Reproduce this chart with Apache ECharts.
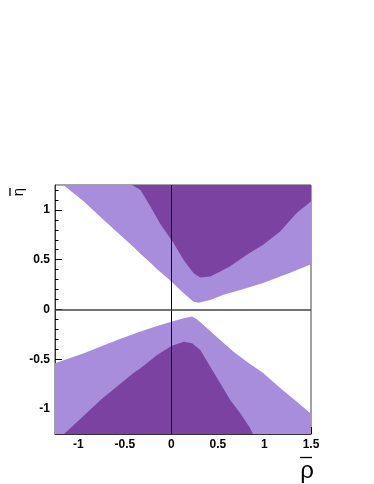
<!DOCTYPE html>
<html>
<head>
<meta charset="utf-8">
<script src="https://cdn.jsdelivr.net/npm/echarts@6/dist/echarts.min.js"></script>
<style>
html,body{margin:0;padding:0;background:#fff;}
#chart{width:374px;height:484px;}
</style>
</head>
<body>
<div id="chart"></div>
<script>
// Axis ranges and ticks
const xRange = [-1.25, 1.5];
const yRange = [-1.25, 1.25];
const xMajorTicks = [-1, -0.5, 0, 0.5, 1, 1.5];
const yMajorTicks = [-1, -0.5, 0, 0.5, 1];
const xMinorTicks = [-1.2,-1.1,-0.9,-0.8,-0.7,-0.6,-0.4,-0.3,-0.2,-0.1,0.1,0.2,0.3,0.4,0.6,0.7,0.8,0.9,1.1,1.2,1.3,1.4];
const yMinorTicks = [-1.2,-1.1,-0.9,-0.8,-0.7,-0.6,-0.4,-0.3,-0.2,-0.1,0.1,0.2,0.3,0.4,0.6,0.7,0.8,0.9,1.1,1.2];
const xTitle = 'ρ';
const yTitle = 'η';

// Upper 95% region (light): lower boundary, then top-right corner
const upper95 = [[-1.16,1.25],[-0.94,1.084],[-0.761,0.928],[-0.582,0.775],[-0.404,0.625],[-0.332,0.56],[-0.225,0.47],[-0.153,0.405],[-0.046,0.318],[0,0.28],[0.132,0.164],[0.239,0.079],[0.293,0.069],[0.418,0.096],[0.561,0.147],[0.74,0.197],[0.986,0.267],[1.276,0.368],[1.5,0.455],[1.5,1.25]];
// Upper 68% region (dark)
const upper68 = [[-0.421,1.25],[-0.332,1.20],[-0.225,1.034],[-0.12,0.86],[0.025,0.666],[0.132,0.498],[0.239,0.365],[0.311,0.321],[0.418,0.331],[0.525,0.381],[0.632,0.435],[0.811,0.549],[0.986,0.649],[1.169,0.783],[1.348,0.971],[1.49,1.078],[1.5,1.09],[1.5,1.25]];
// Lower 95% region (light)
const lower95 = [[-1.25,-0.54],[-0.94,-0.439],[-0.582,-0.306],[-0.332,-0.222],[-0.153,-0.165],[0,-0.122],[0.132,-0.087],[0.222,-0.071],[0.275,-0.097],[0.383,-0.188],[0.525,-0.306],[0.668,-0.423],[0.811,-0.524],[0.986,-0.637],[1.169,-0.788],[1.348,-0.926],[1.49,-1.039],[1.5,-1.049],[1.5,-1.25],[-1.25,-1.25]];
// Lower 68% region (dark)
const lower68 = [[-1.154,-1.25],[-1.01,-1.127],[-0.761,-0.908],[-0.407,-0.637],[-0.332,-0.59],[-0.153,-0.456],[0,-0.366],[0.132,-0.323],[0.222,-0.339],[0.311,-0.406],[0.418,-0.574],[0.525,-0.741],[0.632,-0.909],[0.74,-1.042],[0.847,-1.193],[0.876,-1.25]];

const lightColor = '#a78ddb';
const darkColor = '#7c42a1';
const fontFam = '"Liberation Sans", Arial, Helvetica, sans-serif';

function polySeries(name, pts, color, z) {
  return {
    type: 'custom', name: name, coordinateSystem: 'cartesian2d',
    xAxisIndex: 0, yAxisIndex: 0, silent: true, z: z, clip: true,
    data: pts,
    renderItem: function (params, api) {
      if (params.dataIndex !== 0) return null;
      const points = pts.map(function (p) { return api.coord(p); });
      return { type: 'polygon', shape: { points: points }, style: { fill: color, stroke: null } };
    }
  };
}

const chart = echarts.init(document.getElementById('chart'), null, { renderer: 'canvas' });
const grid = { left: 55, top: 185, width: 256, height: 249, show: true, borderColor: '#444', borderWidth: 1, backgroundColor: 'transparent', containLabel: false };

const tickLabelStyle = { color: '#000', fontFamily: fontFam, fontWeight: 'bold', fontSize: 12 };

chart.setOption({
  animation: false,
  grid: grid,
  xAxis: [
    { type: 'value', min: xRange[0], max: xRange[1], gridIndex: 0,
      axisLine: { show: true, onZero: false, lineStyle: { color: '#333', width: 1 } },
      axisTick: { show: true, inside: true, length: 7, customValues: xMajorTicks, lineStyle: { color: '#000', width: 1 } },
      axisLabel: Object.assign({ show: true, margin: 5, customValues: xMajorTicks }, tickLabelStyle),
      splitLine: { show: false } },
    { type: 'value', min: xRange[0], max: xRange[1], gridIndex: 0, position: 'bottom',
      axisLine: { show: false, onZero: false },
      axisTick: { show: true, inside: true, length: 3.5, customValues: xMinorTicks, lineStyle: { color: '#000', width: 1 } },
      axisLabel: { show: false },
      splitLine: { show: false } }
  ],
  yAxis: [
    { type: 'value', min: yRange[0], max: yRange[1], gridIndex: 0,
      axisLine: { show: true, onZero: false, lineStyle: { color: '#333', width: 1 } },
      axisTick: { show: true, inside: true, length: 7, customValues: yMajorTicks, lineStyle: { color: '#000', width: 1 } },
      axisLabel: Object.assign({ show: true, margin: 5, customValues: yMajorTicks }, tickLabelStyle),
      splitLine: { show: false } },
    { type: 'value', min: yRange[0], max: yRange[1], gridIndex: 0, position: 'left',
      axisLine: { show: false, onZero: false },
      axisTick: { show: true, inside: true, length: 3.5, customValues: yMinorTicks, lineStyle: { color: '#000', width: 1 } },
      axisLabel: { show: false },
      splitLine: { show: false } }
  ],
  series: [
    polySeries('upper95', upper95, lightColor, 1),
    polySeries('lower95', lower95, lightColor, 1),
    polySeries('upper68', upper68, darkColor, 2),
    polySeries('lower68', lower68, darkColor, 2),
    { type: 'line', data: [], xAxisIndex: 0, yAxisIndex: 0, z: 5, silent: true,
      markLine: { silent: true, symbol: ['none', 'none'], animation: false, label: { show: false },
        data: [
          { xAxis: 0, lineStyle: { color: '#000', width: 1, type: 'solid' } },
          { yAxis: 0, lineStyle: { color: '#444', width: 1.5, type: 'solid' } }
        ] } }
  ],
  graphic: [
    { type: 'text', x: 19, y: 192, rotation: Math.PI / 2,
      style: { text: yTitle, fill: '#000', font: '15px ' + fontFam, textAlign: 'center', textVerticalAlign: 'middle' } },
    { type: 'line', shape: { x1: 10, y1: 188, x2: 10, y2: 196 }, style: { stroke: '#000', lineWidth: 1.3 } },
    { type: 'text', x: 307, y: 471,
      style: { text: xTitle, fill: '#000', font: '24px ' + fontFam, textAlign: 'center', textVerticalAlign: 'middle' } },
    { type: 'line', shape: { x1: 300, y1: 457.5, x2: 312, y2: 457.5 }, style: { stroke: '#000', lineWidth: 1.3 } }
  ]
});
</script>
</body>
</html>
